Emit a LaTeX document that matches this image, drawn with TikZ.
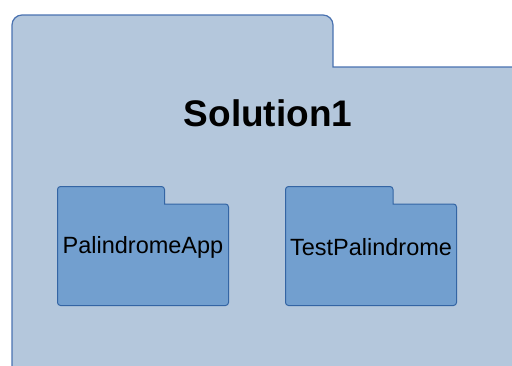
\documentclass[tikz,border=0pt]{standalone}
\usepackage{fontspec}
\setmainfont{Liberation Sans}
\definecolor{outerfill}{HTML}{B4C7DC}
\definecolor{outerline}{HTML}{4A72B0}
\definecolor{innerfill}{HTML}{729FCF}
\definecolor{innerline}{HTML}{3465A4}
\tikzset{
  outerfolder/.style={fill=outerfill, draw=outerline, line width=1.2pt},
  innerfolder/.style={fill=innerfill, draw=innerline, line width=1pt, rounded corners=3pt},
  foldertitle/.style={font=\bfseries\fontsize{37}{40}\selectfont, text=black},
  folderlabel/.style={font=\fontsize{23.5}{26}\selectfont, text=black},
}
\begin{document}
\begin{tikzpicture}[x=1pt, y=-1pt]
  \useasboundingbox (0,0) rectangle (512,365);
  \clip (0,0) rectangle (512,365);
  % solution folder, running past the right and bottom edges
  \draw[outerfolder] (12,380) [rounded corners=10pt] -- (12,15) -- (333,15)
    [rounded corners=0pt] -- (333,67) -- (530,67) -- (530,380) -- cycle;
  \node[foldertitle, anchor=base] (sol) at (268,126) {Solution1};
  % project folders
  \draw[innerfolder] (57.5,305.5) -- (57.5,186.5) -- (164.5,186.5)
    [rounded corners=0pt] -- (164.5,204) [rounded corners=3pt] -- (228.5,204) -- (228.5,305.5) -- cycle;
  \node[folderlabel] (app) at (143,247) {PalindromeApp};
  \draw[innerfolder] (285.5,305.5) -- (285.5,186.5) -- (393,186.5)
    [rounded corners=0pt] -- (393,204) [rounded corners=3pt] -- (456.5,204) -- (456.5,305.5) -- cycle;
  \node[folderlabel] (test) at (371,247) {TestPalindrome};
\end{tikzpicture}
\end{document}
